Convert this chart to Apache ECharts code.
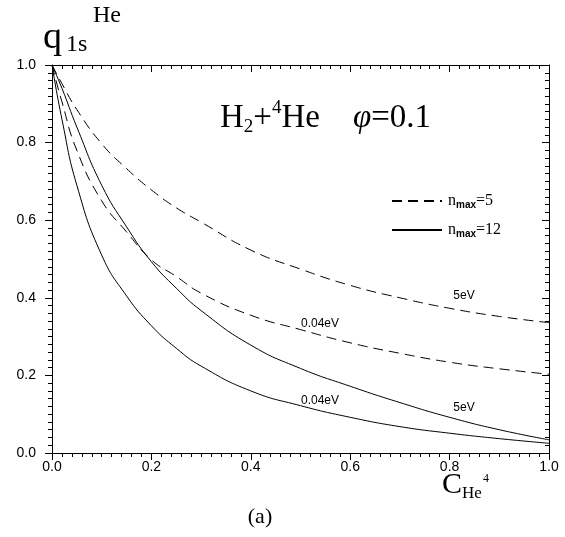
<!DOCTYPE html>
<html>
<head>
<meta charset="utf-8">
<script src="https://cdn.jsdelivr.net/npm/echarts@6/dist/echarts.min.js"></script>
<style>
html,body{margin:0;padding:0;background:#fff;}
#main{width:565px;height:537px;}
</style>
</head>
<body>
<div id="main"></div>
<script>
// concentration of He4 (x grid shared by all curves)
var cHe = [0, 0.02, 0.05, 0.1, 0.15, 0.2, 0.25, 0.3, 0.4, 0.5, 0.6, 0.7, 0.8, 0.9, 1.0];
// n_max = 5 (dashed)
var n5_5eV   = [1.0, 0.952, 0.885, 0.797, 0.733, 0.678, 0.632, 0.595, 0.523, 0.474, 0.432, 0.400, 0.373, 0.352, 0.336];
var n5_004eV = [1.0, 0.905, 0.780, 0.650, 0.570, 0.498, 0.455, 0.412, 0.355, 0.318, 0.284, 0.257, 0.234, 0.217, 0.203];
// n_max = 12 (solid)
var n12_5eV   = [1.0, 0.940, 0.840, 0.690, 0.583, 0.493, 0.425, 0.367, 0.278, 0.218, 0.172, 0.130, 0.092, 0.060, 0.034];
var n12_004eV = [1.0, 0.860, 0.690, 0.510, 0.405, 0.328, 0.270, 0.224, 0.160, 0.122, 0.092, 0.068, 0.051, 0.037, 0.025];

function pairs(ys){
    var out = [];
    for(var i=0;i<cHe.length;i++){ out.push([cHe[i], ys[i]]); }
    return out;
}

var serifF = 'Liberation Serif';
var sansF = 'Liberation Sans';

function mainAxis(pos, showLabel, inside){
    return {
        type:'value', position:pos, min:0, max:1, interval:0.2,
        axisLine:{show:true, onZero:false, lineStyle:{color:'#000', width:1}},
        axisTick:{show:true, inside:inside, length:7, lineStyle:{color:'#000'}},
        minorTick:{show:true, splitNumber:10, length:4, lineStyle:{color:'#000'}},
        splitLine:{show:false},
        axisLabel:{show:showLabel, color:'#000', fontFamily:sansF, fontSize:14,
            formatter:function(v){ return v.toFixed(1); }}
    };
}

var xb = mainAxis('bottom', true, false); xb.axisLabel.margin = 7;
var xt = mainAxis('top', false, true);
var yl = mainAxis('left', true, false); yl.axisLabel.margin = 16;
var yr = mainAxis('right', false, true);

function line(name, ys, dashed){
    return {
        name:name, type:'line', xAxisIndex:0, yAxisIndex:0,
        data:pairs(ys), smooth:0.5,
        symbol:'none', silent:true,
        lineStyle:{color:'#000', width:1, type: dashed ? [10,6] : 'solid'},
        itemStyle:{color:'#000'}
    };
}

var myChart = echarts.init(document.getElementById('main'));
myChart.setOption({
    animation:false,
    backgroundColor:'#fff',
    grid:{left:52, right:16, top:65, bottom:84, containLabel:false},
    xAxis:[xb, xt],
    yAxis:[yl, yr],
    legend:{
        orient:'vertical', left:386, top:188,
        itemWidth:50, itemHeight:14, itemGap:12,
        itemStyle:{opacity:0},
        data:['nmax=5','nmax=12'],
        formatter:function(n){ return '{a|n}{b|max}{a|' + n.slice(4) + '}'; },
        textStyle:{
            padding:[0,0,0,1],
            rich:{
                a:{fontFamily:serifF, fontSize:16, color:'#000', lineHeight:18},
                b:{fontFamily:sansF, fontSize:10, fontWeight:'bold', color:'#000', verticalAlign:'bottom', lineHeight:12}
            }
        }
    },
    series:[
        line('nmax=5', n5_5eV, true),
        line('nmax=5', n5_004eV, true),
        line('nmax=12', n12_5eV, false),
        line('nmax=12', n12_004eV, false)
    ],
    graphic:[
        // title H2+4He  phi=0.1
        {type:'text', x:220, y:118, style:{
            text:'{m|H}{sub|2}{m|+}{sup|4}{m|He}{m|    }{it|φ}{m|=0.1}',
            textVerticalAlign:'middle', fill:'#000',
            rich:{
                m:{fontFamily:serifF, fontSize:33, lineHeight:38, fill:'#000'},
                sub:{fontFamily:serifF, fontSize:19, lineHeight:12, verticalAlign:'bottom', fill:'#000'},
                sup:{fontFamily:serifF, fontSize:19, lineHeight:13, verticalAlign:'top', fill:'#000'},
                it:{fontFamily:serifF, fontStyle:'italic', fontSize:33, lineHeight:38, fill:'#000'}
            }}},
        // y axis name q_1s^He
        {type:'text', x:43, y:38, style:{text:'q', font:'38px "Liberation Serif"', fill:'#000', textVerticalAlign:'middle'}},
        {type:'text', x:66, y:45, style:{text:'1s', font:'24px "Liberation Serif"', fill:'#000', textVerticalAlign:'middle'}},
        {type:'text', x:93, y:16, style:{text:'He', font:'24px "Liberation Serif"', fill:'#000', textVerticalAlign:'middle'}},
        // x axis name C_He^4
        {type:'text', x:442, y:485, style:{text:'C', font:'30px "Liberation Serif"', fill:'#000', textVerticalAlign:'middle'}},
        {type:'text', x:462, y:494, style:{text:'He', font:'17px "Liberation Serif"', fill:'#000', textVerticalAlign:'middle'}},
        {type:'text', x:483, y:479, style:{text:'4', font:'12px "Liberation Serif"', fill:'#000', textVerticalAlign:'middle'}},
        // curve labels
        {type:'text', x:464, y:296, style:{text:'5eV', font:'12px "Liberation Sans"', fill:'#000', textAlign:'center', textVerticalAlign:'middle'}},
        {type:'text', x:464, y:408, style:{text:'5eV', font:'12px "Liberation Sans"', fill:'#000', textAlign:'center', textVerticalAlign:'middle'}},
        {type:'text', x:320, y:324, style:{text:'0.04eV', font:'12px "Liberation Sans"', fill:'#000', textAlign:'center', textVerticalAlign:'middle'}},
        {type:'text', x:320, y:401, style:{text:'0.04eV', font:'12px "Liberation Sans"', fill:'#000', textAlign:'center', textVerticalAlign:'middle'}},
        // panel label
        {type:'text', x:260, y:517, style:{text:'(a)', font:'22px "Liberation Serif"', fill:'#000', textAlign:'center', textVerticalAlign:'middle'}}
    ]
});
</script>
</body>
</html>
